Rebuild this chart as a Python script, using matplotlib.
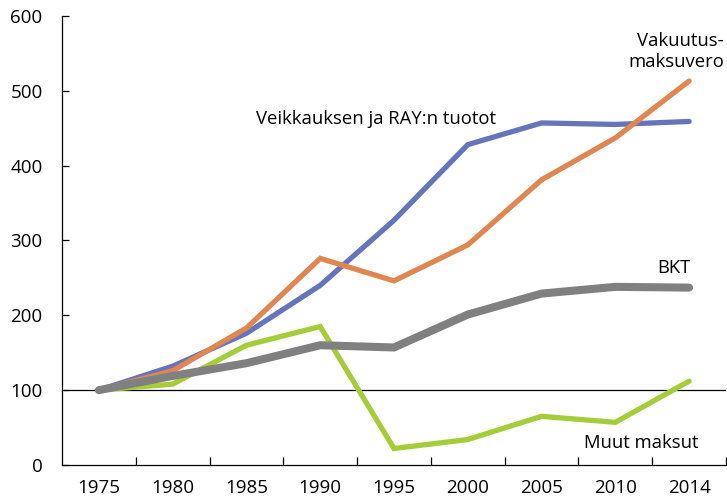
import matplotlib
matplotlib.use("Agg")
import matplotlib.pyplot as plt

years = ["1975", "1980", "1985", "1990", "1995", "2000", "2005", "2010", "2014"]
veikkaus = [100, 132, 176, 240, 327, 428, 457, 455, 459]
vakuutus = [100, 126, 183, 276, 246, 294, 381, 437, 513]
bkt = [100, 119, 136, 160, 157, 201, 229, 238, 237]
muut = [100, 108, 160, 185, 22, 34, 65, 57, 112]

plt.rcParams["font.family"] = ["Open Sans", "DejaVu Sans"]

fig = plt.figure(figsize=(7.27, 5.01), dpi=100)
ax = fig.add_axes([0.0853, 0.0719, 0.9133, 0.8963])

x = list(range(len(years)))
ax.plot(x, veikkaus, color="#6574bb", lw=3.8, solid_capstyle="round", solid_joinstyle="miter")
ax.plot(x, vakuutus, color="#e08650", lw=3.8, solid_capstyle="round", solid_joinstyle="miter")
ax.plot(x, muut, color="#a5cd39", lw=3.8, solid_capstyle="round", solid_joinstyle="miter")
ax.plot(x, bkt, color="#808080", lw=5.8, solid_capstyle="round", solid_joinstyle="miter")
ax.axhline(100, color="black", lw=0.9, zorder=1)

ax.set_xlim(-0.5, len(years) - 0.5)
ax.set_ylim(0, 600)
ax.set_yticks(range(0, 601, 100))
ax.set_xticks([i + 0.5 for i in range(len(years))])
ax.set_xticklabels([])
ax.set_xticks(x, minor=True)
ax.set_xticklabels(years, minor=True)
ax.tick_params(axis="x", which="major", direction="in", length=6, width=0.9)
ax.tick_params(axis="x", which="minor", length=0, pad=10, labelsize=13.5)
ax.tick_params(axis="y", direction="in", length=5, width=0.9, pad=14, labelsize=13.5)
ax.spines["top"].set_visible(False)
ax.spines["right"].set_visible(False)
ax.spines["left"].set_linewidth(0.9)
ax.spines["bottom"].set_linewidth(0.9)

ax.text(3.75, 462, "Veikkauksen ja RAY:n tuotot", ha="center", va="center", fontsize=13.3)
ax.text(8.47, 553, "Vakuutus-\nmaksuvero", ha="right", va="center", fontsize=13.3,
        linespacing=1.2, multialignment="right")
ax.text(7.8, 263, "BKT", ha="center", va="center", fontsize=13.3)
ax.text(7.35, 30, "Muut maksut", ha="center", va="center", fontsize=13.3)

fig.savefig("out.png", dpi=100)
